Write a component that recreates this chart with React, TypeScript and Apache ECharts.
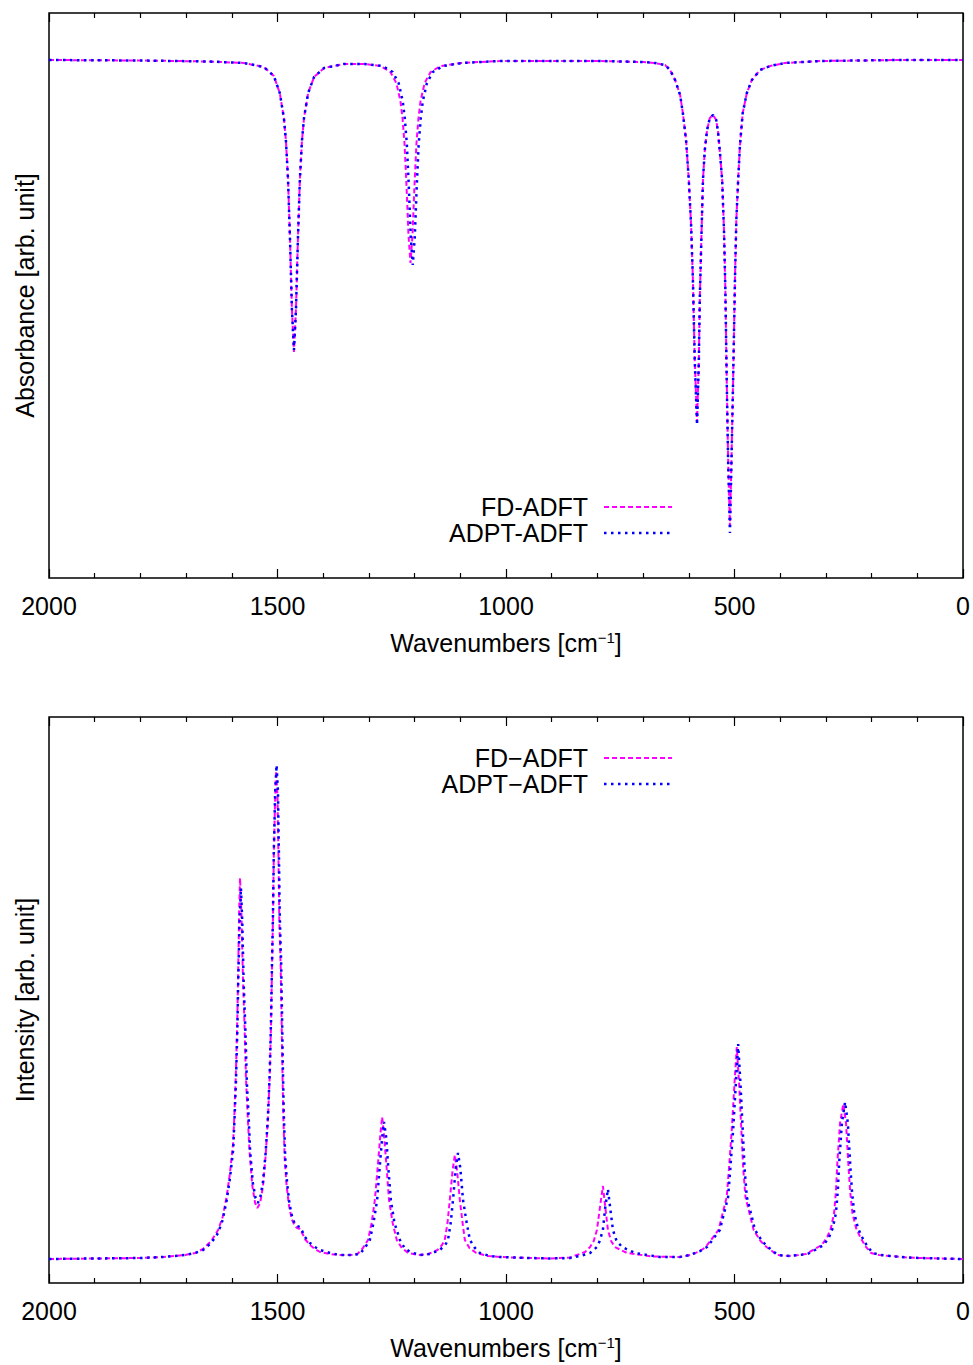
import React, { useEffect, useRef } from "react";
import * as echarts from "echarts";

const FONT = '"Liberation Sans", Arial, Helvetica, sans-serif';
const FS = 25;
const MAGENTA = "#ff00ff";
const BLUE = "#0000ff";

const xTicks = { min: 0, max: 2000, interval: 500 };
const xTitle = "Wavenumbers [cm{sup|−1}]";
const topYTitle = "Absorbance [arb. unit]";
const bottomYTitle = "Intensity [arb. unit]";
const topNames = ["FD-ADFT", "ADPT-ADFT"];
const bottomNames = ["FD−ADFT", "ADPT−ADFT"];

// IR absorbance (arb. unit), [wavenumber, value]
const absFD: number[][] = [
  [2000, 518], [1800, 517.5], [1650, 516.5], [1600, 515.5], [1573, 515], [1530, 511], [1508, 502], [1495, 485],
  [1486, 460], [1481.5, 437], [1477, 399], [1472.8, 341], [1468.4, 268], [1464, 226], [1459.6, 268],
  [1455.2, 341], [1451, 399], [1446.5, 437], [1442, 460], [1433, 485], [1420, 501], [1398, 510],
  [1355, 514], [1310, 514], [1275, 512], [1253, 506], [1240, 495], [1231, 477], [1226.5, 460],
  [1222, 434], [1217.8, 393], [1213.4, 343], [1209, 315], [1204.6, 343], [1200.2, 393], [1196, 434],
  [1191.5, 460], [1187, 477], [1178, 495], [1165, 506], [1143, 512], [1100, 515], [1013, 517],
  [794, 517], [700, 516], [674, 515], [652, 513], [641, 508], [630, 498], [619, 483], [613, 465],
  [606, 438], [600, 398], [595, 353], [591, 298], [587, 218], [582, 156], [578, 218], [576, 278],
  [572, 348], [569, 398], [565, 428], [560, 448], [554, 460], [547, 463], [540, 458], [536, 446],
  [532, 426], [527, 398], [523, 348], [520, 288], [517, 198], [514, 120], [510, 52], [507, 110],
  [503, 198], [499, 298], [496, 358], [492, 398], [488, 433], [482, 465], [473, 485], [462, 498],
  [444, 508], [422, 512], [390, 515], [313, 517], [138, 518], [0, 518],
];
const absADPT: number[][] = [
  [2000, 518], [1800, 517.5], [1650, 516.5], [1600, 515.5], [1573, 515], [1530, 511], [1508, 502], [1495, 485],
  [1486, 460], [1481.5, 437], [1477, 399], [1472.8, 341], [1468.4, 268], [1464, 228], [1459.6, 268],
  [1455.2, 341], [1451, 399], [1446.5, 437], [1442, 460], [1433, 485], [1420, 501], [1398, 510],
  [1355, 514], [1310, 514], [1270, 512], [1248, 506], [1235, 495], [1226, 477], [1221.5, 460],
  [1217, 434], [1212.8, 393], [1208.4, 341], [1204, 313], [1199.6, 341], [1195.2, 393], [1191, 434],
  [1186.5, 460], [1182, 477], [1173, 495], [1160, 506], [1138, 512], [1095, 515], [1013, 517],
  [794, 517], [700, 516], [674, 515], [652, 513], [641, 508], [630, 498], [619, 483], [613, 465],
  [606, 438], [600, 398], [595, 353], [591, 298], [587, 218], [582, 153], [578, 218], [576, 278],
  [572, 348], [569, 398], [565, 428], [560, 448], [554, 460], [547, 463], [540, 458], [536, 446],
  [532, 426], [527, 398], [523, 348], [520, 288], [517, 198], [514, 118], [510, 45], [507, 108],
  [503, 198], [499, 298], [496, 358], [492, 398], [488, 433], [482, 465], [473, 485], [462, 498],
  [444, 508], [422, 512], [390, 515], [313, 517], [138, 518], [0, 518],
];

// Raman intensity (arb. unit), [wavenumber, value]
const ramanFD: number[][] = [
  [2000, 24], [1900, 24.5], [1800, 25], [1750, 26], [1702, 28], [1680, 30], [1663, 34], [1645, 42],
  [1630, 53], [1620, 66], [1611, 87], [1604, 110], [1597, 140], [1594, 172], [1591, 210], [1588, 262],
  [1586, 312], [1584, 370], [1582, 405], [1579, 370], [1576, 312], [1572, 255], [1569, 205], [1565, 165],
  [1561, 130], [1555, 97], [1549, 80], [1544, 75], [1538, 80], [1532, 96], [1526, 127], [1521, 163],
  [1517, 207], [1514, 262], [1512, 316], [1510, 362], [1508, 430], [1505, 488], [1503, 512], [1500, 488],
  [1498, 430], [1496, 362], [1493, 316], [1491, 262], [1489, 207], [1487, 163], [1484, 122], [1480, 97],
  [1475, 78], [1469, 64], [1462, 57], [1457, 55], [1451, 54], [1446, 50], [1440, 44], [1429, 38],
  [1418, 34], [1407, 31], [1385, 29], [1363, 28], [1340, 28], [1325, 29], [1313, 35], [1302, 43],
  [1294, 60], [1287, 83], [1280, 120], [1275, 148], [1271, 166], [1267, 148], [1262, 120], [1256, 83],
  [1248, 60], [1239, 43], [1228, 35], [1214, 30], [1192, 28], [1170, 29], [1150, 33], [1140, 38],
  [1134, 43], [1128, 60], [1123, 83], [1117, 112], [1112, 128], [1107, 112], [1101, 83], [1095, 60],
  [1090, 43], [1080, 35], [1065, 30], [1040, 27], [1013, 26], [950, 25], [904, 24.5], [860, 25.5],
  [845, 28], [827, 31], [816, 36], [808, 42], [801, 53], [794, 77], [788, 97], [783, 77], [777, 53],
  [770, 42], [762, 36], [735, 30], [680, 26.5], [620, 26], [597, 28], [575, 32], [563, 36], [535, 53],
  [517, 86], [512, 115], [506, 153], [500, 200], [495, 236], [490, 200], [485, 153], [481, 115],
  [476, 86], [458, 53], [443, 42], [430, 36], [418, 32], [407, 28], [382, 27], [360, 28], [344, 29],
  [328, 33], [309, 38], [297, 46], [289, 55], [282, 70], [278, 92], [275, 120], [269, 160], [262, 179],
  [256, 160], [251, 120], [247, 92], [242, 70], [234, 55], [225, 46], [214, 37], [201, 30], [184, 28],
  [160, 27], [120, 25.5], [94, 25], [50, 24.5], [0, 24],
];
const ramanADPT: number[][] = [
  [2000, 24], [1900, 24.5], [1800, 25], [1750, 26], [1702, 28], [1680, 30], [1663, 33], [1645, 40],
  [1630, 50], [1620, 63], [1611, 83], [1604, 105], [1597, 133], [1594, 165], [1591, 200], [1588, 250],
  [1586, 300], [1583, 360], [1580, 395], [1577, 360], [1574, 300], [1570, 250], [1567, 200], [1563, 165],
  [1560, 133], [1554, 100], [1548, 85], [1543, 80], [1538, 85], [1532, 100], [1526, 130], [1521, 166],
  [1517, 210], [1514, 266], [1512, 320], [1510, 366], [1508, 433], [1505, 492], [1502, 518], [1499, 492],
  [1497, 433], [1495, 366], [1492, 320], [1490, 266], [1488, 210], [1486, 166], [1483, 125], [1479, 100],
  [1474, 80], [1468, 66], [1462, 59], [1457, 57], [1451, 56], [1446, 52], [1440, 46], [1429, 40],
  [1418, 36], [1407, 33], [1385, 30], [1363, 28], [1340, 28], [1320, 29], [1309, 35], [1298, 43],
  [1290, 60], [1282, 83], [1276, 118], [1271, 145], [1267, 161], [1262, 145], [1258, 118], [1252, 83],
  [1244, 60], [1232, 43], [1222, 35], [1210, 31], [1188, 28], [1166, 29], [1145, 33], [1133, 38],
  [1127, 43], [1121, 60], [1116, 83], [1110, 115], [1105, 130], [1100, 115], [1094, 83], [1086, 60],
  [1079, 43], [1068, 35], [1057, 30], [1035, 27], [1013, 26], [950, 25], [904, 24.5], [860, 25],
  [838, 27], [816, 30], [801, 36], [795, 42], [788, 53], [783, 75], [777, 94], [772, 75], [766, 53],
  [758, 42], [746, 36], [718, 30], [663, 26], [620, 26], [597, 28], [575, 32], [560, 36], [532, 53],
  [514, 86], [509, 115], [503, 153], [497, 200], [492, 239], [487, 200], [482, 153], [478, 115],
  [473, 86], [455, 53], [440, 42], [427, 36], [416, 32], [405, 28], [380, 27], [357, 28], [340, 29],
  [324, 33], [305, 38], [293, 46], [285, 55], [278, 70], [274, 92], [271, 120], [265, 160], [258, 181],
  [252, 160], [247, 120], [243, 92], [238, 70], [230, 55], [221, 46], [210, 37], [197, 30], [180, 28],
  [160, 27], [120, 25.5], [94, 25], [50, 24.5], [0, 24],
];

const DASH = [5, 3];
const DOT = [2.5, 4.5];

function makeX(gridIndex: number, position: string, withLabels: boolean) {
  return {
    gridIndex,
    type: "value",
    ...xTicks,
    inverse: true,
    position,
    axisLine: { show: false },
    axisTick: { show: true, inside: true, length: 9, lineStyle: { color: "#000", width: 1.2 } },
    minorTick: { show: true, splitNumber: 5, length: 5, lineStyle: { color: "#000", width: 1.2 } },
    splitLine: { show: false },
    minorSplitLine: { show: false },
    axisLabel: withLabels
      ? {
          show: true,
          fontSize: FS,
          color: "#000",
          fontFamily: FONT,
          margin: 15,
          showMinLabel: true,
          showMaxLabel: true,
          formatter: (v: number) => String(v),
        }
      : { show: false },
    name: withLabels ? xTitle : "",
    nameLocation: "middle",
    nameGap: 52,
    nameTextStyle: {
      fontSize: FS,
      color: "#000",
      fontFamily: FONT,
      rich: { sup: { fontSize: 15, color: "#000", fontFamily: FONT, verticalAlign: "top", padding: [0, 0, 10, 0] } },
    },
  };
}

function makeY(gridIndex: number, max: number, title: string) {
  return {
    gridIndex,
    type: "value",
    min: 0,
    max,
    axisLine: { show: false },
    axisTick: { show: false },
    axisLabel: { show: false },
    splitLine: { show: false },
    name: title,
    nameLocation: "middle",
    nameRotate: 90,
    nameGap: 12,
    nameTextStyle: { fontSize: FS, color: "#000", fontFamily: FONT },
  };
}

function makeSeries(name: string, data: number[][], xi: number, yi: number, color: string, dash: number[], width: number) {
  return {
    name,
    type: "line",
    xAxisIndex: xi,
    yAxisIndex: yi,
    data,
    symbol: "none",
    showSymbol: false,
    clip: true,
    lineStyle: { color, width, type: dash },
  };
}

function legendItems(names: string[], yTop: number) {
  const els: any[] = [];
  const styles = [
    { color: MAGENTA, dash: DASH, width: 2 },
    { color: BLUE, dash: DOT, width: 2.5 },
  ];
  names.forEach((n, i) => {
    const y = yTop + i * 26;
    els.push({
      type: "text",
      x: 588,
      y,
      style: { text: n, align: "right", verticalAlign: "middle", fontSize: FS, fontFamily: FONT, fill: "#000" },
    });
    els.push({
      type: "line",
      shape: { x1: 604, y1: y, x2: 672, y2: y },
      style: { stroke: styles[i].color, lineWidth: styles[i].width, lineDash: styles[i].dash },
    });
  });
  return els;
}

export default function App() {
  const ref = useRef<HTMLDivElement>(null);
  useEffect(() => {
    if (!ref.current) return;
    const chart = echarts.init(ref.current, null, { renderer: "svg" });
    chart.setOption({
      animation: false,
      backgroundColor: "#fff",
      textStyle: { fontFamily: FONT },
      grid: [
        { left: 49, top: 13, width: 914, height: 565, show: true, borderColor: "#000", borderWidth: 1.5, backgroundColor: "transparent" },
        { left: 49, top: 717, width: 914, height: 566, show: true, borderColor: "#000", borderWidth: 1.5, backgroundColor: "transparent" },
      ],
      xAxis: [makeX(0, "bottom", true), makeX(0, "top", false), makeX(1, "bottom", true), makeX(1, "top", false)],
      yAxis: [makeY(0, 565, topYTitle), makeY(1, 566, bottomYTitle)],
      series: [
        makeSeries(topNames[0], absFD, 0, 0, MAGENTA, DASH, 2),
        makeSeries(topNames[1], absADPT, 0, 0, BLUE, DOT, 2.5),
        makeSeries(bottomNames[0], ramanFD, 2, 1, MAGENTA, DASH, 2),
        makeSeries(bottomNames[1], ramanADPT, 2, 1, BLUE, DOT, 2.5),
      ],
      graphic: [...legendItems(topNames, 507), ...legendItems(bottomNames, 758)],
    });
    return () => chart.dispose();
  }, []);
  return <div ref={ref} style={{ position: "absolute", left: 0, top: 0, width: 973, height: 1365 }} />;
}
